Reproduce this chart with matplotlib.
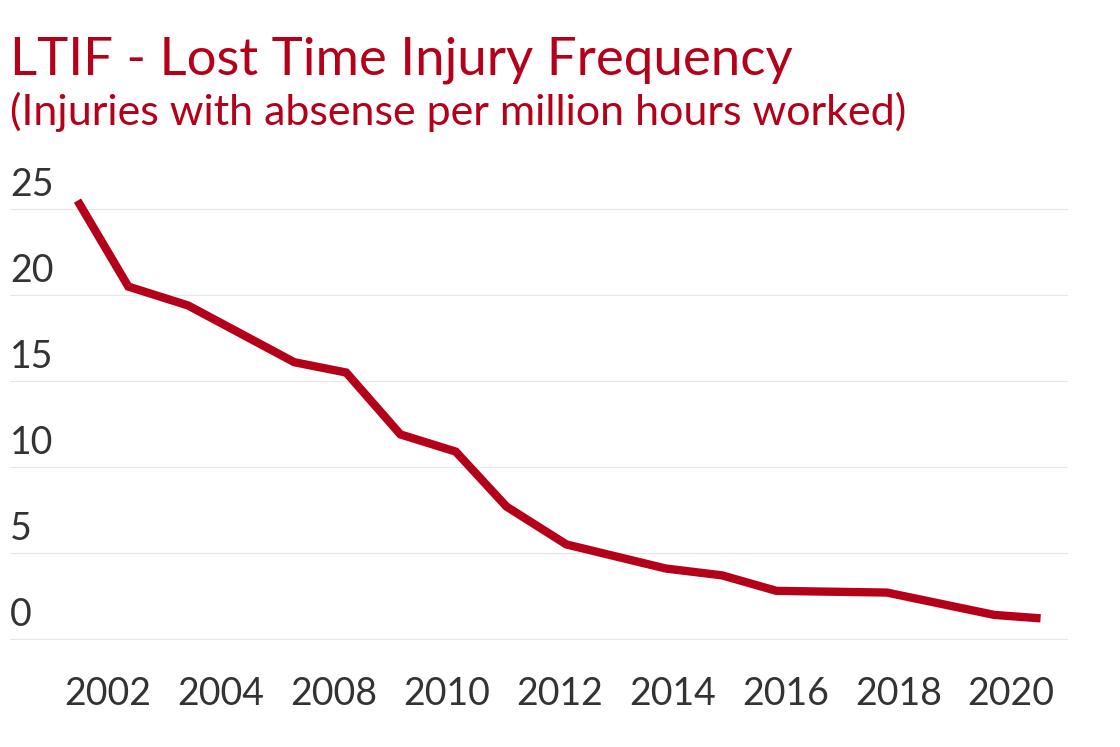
import matplotlib
matplotlib.use('Agg')
import matplotlib.pyplot as plt

# x in label slots (0 = 2002, 1 = 2004, 2 = 2008, ...)
xpos = [-0.27, 0.18, 0.71, 1.65, 2.11, 2.59, 3.08, 3.53, 4.06, 4.94, 5.44, 5.92, 6.90, 7.85, 8.26]
ltif = [25.5, 20.5, 19.4, 16.1, 15.5, 11.9, 10.9, 7.7, 5.5, 4.1, 3.7, 2.8, 2.7, 1.4, 1.2]
year_labels = ['2002', '2004', '2008', '2010', '2012', '2014', '2016', '2018', '2020']
yticks = [0, 5, 10, 15, 20, 25]

red = '#b5001a'
grey = '#333333'
font = 'Lato'

fig = plt.figure(figsize=(11.2, 7.47), dpi=100)
ax = fig.add_axes([10/1120, 1 - 645/747, 1058/1120, 465/747])

ax.plot(xpos, ltif, color=red, lw=6, solid_joinstyle='miter', solid_capstyle='butt', zorder=3)
ax.set_xlim(-0.868, 8.503)
ax.set_ylim(-0.35, 26.7)

ax.set_yticks(yticks)
ax.set_yticklabels([])
ax.tick_params(axis='y', length=0)
ax.grid(axis='y', color='#e6e6e6', lw=0.8)
for t in yticks:
    ax.text(0.0, t + 0.35, str(t), transform=ax.get_yaxis_transform(),
            fontsize=27, family=font, color=grey, va='bottom', ha='left')

ax.set_xticks(range(len(year_labels)))
ax.set_xticklabels(year_labels, fontsize=27, family=font, color=grey)
ax.tick_params(axis='x', length=0, pad=22)
for s in ax.spines.values():
    s.set_visible(False)

fig.text(10/1120, 1 - 75/747, 'LTIF - Lost Time Injury Frequency', fontsize=38,
         family=font, color=red, ha='left', va='baseline')
fig.text(10/1120, 1 - 125/747, '(Injuries with absense per million hours worked)', fontsize=31,
         family=font, color=red, ha='left', va='baseline')

fig.savefig('out.png', dpi=100)
